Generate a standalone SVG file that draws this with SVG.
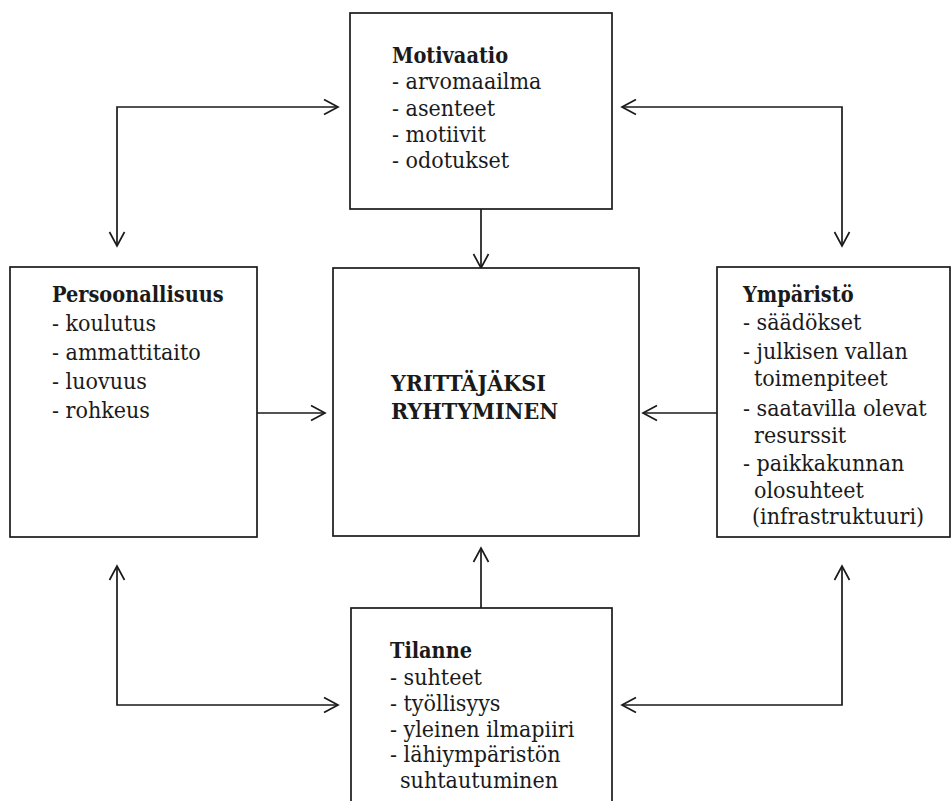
<svg xmlns="http://www.w3.org/2000/svg" width="952" height="801" viewBox="0 0 952 801">
<style>
.box{fill:#fff;stroke:#1a1a1a;stroke-width:1.7}
.t{font-family:"DejaVu Serif Condensed","DejaVu Serif",serif;font-stretch:condensed;font-size:23px;fill:#1a1a1a}
.b{font-weight:bold;font-size:21.5px}
.c{font-family:"DejaVu Serif Condensed","DejaVu Serif",serif;font-stretch:condensed;font-size:23px;font-weight:bold;fill:#1a1a1a}
.ln{fill:none;stroke:#1a1a1a;stroke-width:1.7}
</style>
<defs>
<marker id="ah" markerUnits="userSpaceOnUse" markerWidth="20" markerHeight="20" refX="0" refY="0" viewBox="-16 -10 20 20" orient="auto-start-reverse">
<path d="M-14,-7.5 L0,0 L-14,7.5" fill="none" stroke="#1a1a1a" stroke-width="1.7"/>
</marker>
</defs>
<rect width="952" height="801" fill="#fff"/>
<g id="connectors">
<path class="ln" d="M481,209 V268" marker-end="url(#ah)"/>
<path class="ln" d="M257,413 H325" marker-end="url(#ah)"/>
<path class="ln" d="M717,413 H643" marker-end="url(#ah)"/>
<path class="ln" d="M481,608 V548" marker-end="url(#ah)"/>
<path class="ln" d="M338,107 H117 V246" marker-start="url(#ah)" marker-end="url(#ah)"/>
<path class="ln" d="M622,107 H842 V246" marker-start="url(#ah)" marker-end="url(#ah)"/>
<path class="ln" d="M117,566 V705 H338" marker-start="url(#ah)" marker-end="url(#ah)"/>
<path class="ln" d="M842,566 V705 H622" marker-start="url(#ah)" marker-end="url(#ah)"/>
</g>
<g id="motivaatio">
<rect class="box" x="350" y="13" width="262" height="196"/>
<text class="t" x="392" y="63"><tspan class="b">Motivaatio</tspan><tspan x="392" y="89.3">- arvomaailma</tspan><tspan x="392" y="115.6">- asenteet</tspan><tspan x="392" y="142">- motiivit</tspan><tspan x="392" y="168.3">- odotukset</tspan></text>
</g>
<g id="persoonallisuus">
<rect class="box" x="10" y="267" width="247" height="270"/>
<text class="t" x="52" y="301.5"><tspan class="b">Persoonallisuus</tspan><tspan x="52" y="330.5">- koulutus</tspan><tspan x="52" y="359.5">- ammattitaito</tspan><tspan x="52" y="388.5">- luovuus</tspan><tspan x="52" y="417.5">- rohkeus</tspan></text>
</g>
<g id="yrittajaksi">
<rect class="box" x="333" y="268" width="306" height="268"/>
<text class="c" x="391" y="391">YRITTÄJÄKSI<tspan x="391" y="419">RYHTYMINEN</tspan></text>
</g>
<g id="ymparisto">
<rect class="box" x="717" y="267" width="233" height="270"/>
<text class="t" x="743" y="301.5"><tspan class="b">Ympäristö</tspan><tspan x="743" y="330">- säädökset</tspan><tspan x="743" y="358.5">- julkisen vallan</tspan><tspan x="754" y="386">toimenpiteet</tspan><tspan x="743" y="416">- saatavilla olevat</tspan><tspan x="754" y="443">resurssit</tspan><tspan x="743" y="471">- paikkakunnan</tspan><tspan x="754" y="497.5">olosuhteet</tspan><tspan x="752" y="524">(infrastruktuuri)</tspan></text>
</g>
<g id="tilanne">
<rect class="box" x="351" y="608" width="261" height="210"/>
<text class="t" x="390" y="658.3"><tspan class="b">Tilanne</tspan><tspan x="390" y="684.5">- suhteet</tspan><tspan x="390" y="710.5">- työllisyys</tspan><tspan x="390" y="736.5">- yleinen ilmapiiri</tspan><tspan x="390" y="762">- lähiympäristön</tspan><tspan x="400" y="787.5">suhtautuminen</tspan></text>
</g>
</svg>
